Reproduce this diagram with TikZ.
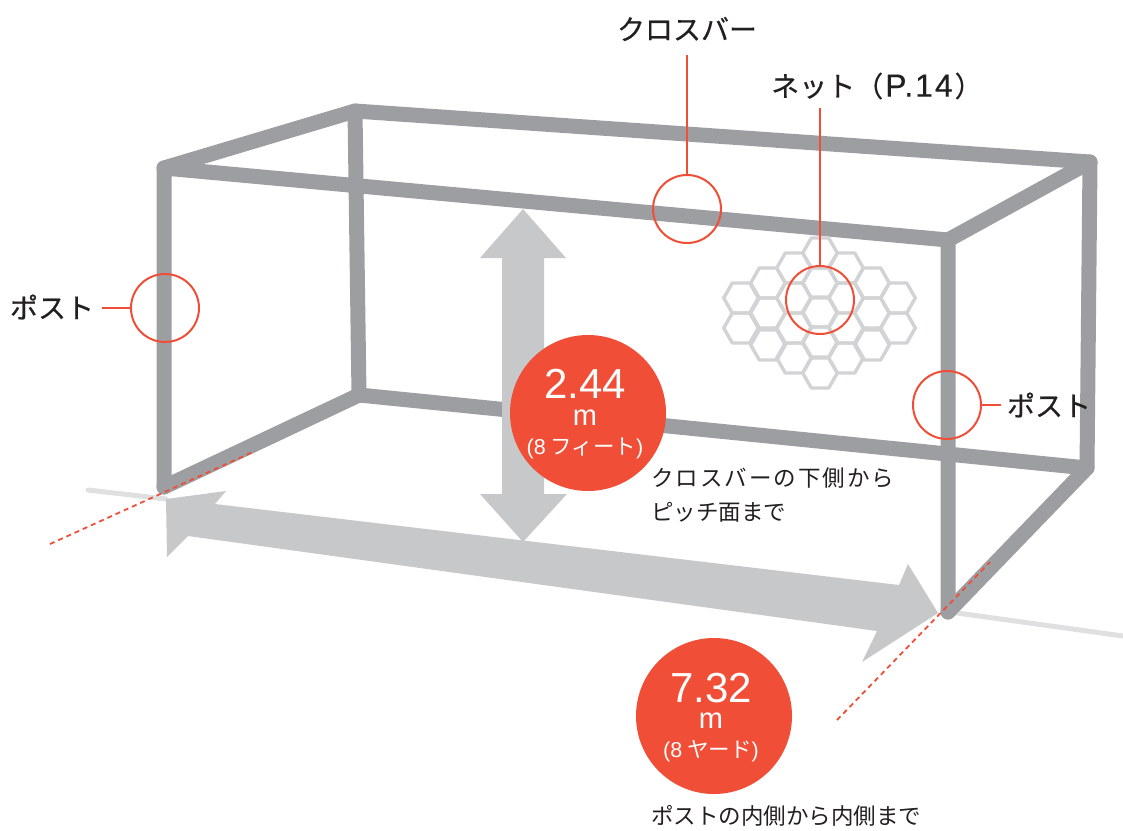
\documentclass[tikz,border=0pt]{standalone}
\usepackage{fontspec}
\usepackage{xcolor}
\setmainfont{Noto Sans CJK JP}
\newfontfamily\numfont{Liberation Sans}
\newfontfamily\widefont[LetterSpace=9]{Noto Sans CJK JP}
\newfontfamily\labelfont[FakeBold=0.5]{Noto Sans CJK JP}
\newfontfamily\pagefont[FakeBold=0.5,LetterSpace=6]{Liberation Sans}
\definecolor{tube}{HTML}{9D9EA2}
\definecolor{pale}{HTML}{C6C8CA}
\definecolor{mesh}{HTML}{D1D3D4}
\definecolor{ground}{HTML}{DFE0E2}
\definecolor{signal}{HTML}{F04E37}
\definecolor{ink}{HTML}{231F20}
\begin{document}
\begin{tikzpicture}[x=1pt,y=-1pt,
    tube line/.style={draw=tube,line width=15pt,line cap=round,line join=round},
    ground line/.style={draw=ground,line width=5pt,line cap=round},
    guide line/.style={draw=signal,line width=1.8pt,dash pattern=on 5pt off 4pt},
    mark line/.style={draw=signal,line width=2pt},
    ring/.style={circle,draw=signal,line width=2pt,minimum size=68pt,inner sep=0pt},
    badge/.style={circle,fill=signal,minimum size=156pt,inner sep=0pt},
    big label/.style={text=ink,inner sep=0pt,font=\labelfont\fontsize{28}{32}\selectfont},
    small label/.style={text=ink,inner sep=0pt,anchor=west,font=\fontsize{22.5}{26}\selectfont},
    num big/.style={text=white,inner sep=0pt,font=\numfont\fontsize{42}{46}\selectfont},
    num unit/.style={text=white,inner sep=0pt,font=\numfont\fontsize{29}{32}\selectfont},
    num sub/.style={text=white,inner sep=0pt,font=\fontsize{21.5}{25}\selectfont}]
    \useasboundingbox (0,0) rectangle (1123,830);

    % ground
    \coordinate (g1) at (88,490);
    \coordinate (g2) at (166,499);
    \coordinate (g3) at (950,612);
    \coordinate (g4) at (1123,636);
    \draw[ground line] (g1) -- (g2);
    \draw[ground line] (g3) -- (g4);

    % goal frame
    \coordinate (fl top) at (164,168);
    \coordinate (bl top) at (355,111);
    \coordinate (br top) at (1090,162);
    \coordinate (fr top) at (948,240);
    \coordinate (fl low) at (164,487);
    \coordinate (bl low) at (359,395);
    \coordinate (br low) at (1087,468);
    \coordinate (fr low) at (948,612);
    \draw[tube line] (bl top) -- (bl low) -- (br low) -- (br top) -- cycle;
    \draw[tube line] (fl low) -- (fl top) -- (fr top) -- (fr low);
    \draw[tube line] (fl top) -- (bl top);
    \draw[tube line] (fr top) -- (br top);
    \draw[tube line] (fl low) -- (bl low);
    \draw[tube line] (fr low) -- (br low);

    % net
    \foreach \px/\py in {820/253,820/283,820/312,820/342,820/373,
        794/268,794/298,794/328,794/358,846/268,846/298,846/328,846/358,
        768/283,768/313,768/345,872/283,872/313,872/345,
        741/298,741/328,898/298,898/328}
        \draw[draw=mesh,line width=3.4pt,line join=round]
            (\px-17.3,\py) -- (\px-8.7,\py-15) -- (\px+8.7,\py-15)
            -- (\px+17.3,\py) -- (\px+8.7,\py+15) -- (\px-8.7,\py+15) -- cycle;

    % arrows
    \fill[pale] (523,209) -- (566,258) -- (544,258) -- (544,494) -- (567,494)
        -- (523,542) -- (480,494) -- (502,494) -- (502,258) -- (480,258) -- cycle;
    \fill[pale] (166,499) -- (226,491) -- (215,504) -- (899,585) -- (908,564)
        -- (938,613) -- (862,662) -- (877,631) -- (188,536) -- (167,557) -- cycle;

    % edge guides
    \coordinate (d1) at (50,544);
    \coordinate (d2) at (255,451);
    \coordinate (d3) at (837,720);
    \coordinate (d4) at (990,562);
    \draw[guide line] (d1) -- (d2);
    \draw[guide line] (d3) -- (d4);

    % badges
    \node[badge] (height) at (588,413) {};
    \node[num big] (height num) at (585,384) {2.44};
    \node[num unit] (height unit) at (585,418) {m};
    \node[num sub] (height sub) at (585,448) {{\numfont(8} フィート{\numfont)}};
    \node[badge] (width) at (714,716) {};
    \node[num big] (width num) at (711,688) {7.32};
    \node[num unit] (width unit) at (711,721) {m};
    \node[num sub] (width sub) at (711,751) {{\numfont(8} ヤード{\numfont)}};
    \node[small label,font=\widefont\fontsize{22.5}{26}\selectfont] (height note a) at (651,478) {クロスバーの下側から};
    \node[small label] (height note b) at (651,512) {ピッチ面まで};
    \node[small label] (width note) at (651,816) {ポストの内側から内側まで};

    % callouts
    \node[ring] (post left) at (165,308) {};
    \node[ring] (bar ring) at (687,209) {};
    \node[ring] (net ring) at (820,300) {};
    \node[ring] (post right) at (947,405) {};
    \node[big label] (post left text) at (52,307) {ポスト};
    \node[big label] (bar text) at (687,29) {クロスバー};
    \node[big label,anchor=west] (net text) at (771,86) {ネット（\kern2pt{\pagefont\fontsize{32}{32}\selectfont P.14}\kern2pt）};
    \node[big label] (post right text) at (1049,405) {ポスト};
    \coordinate (post left end) at (102,308);
    \coordinate (bar end) at (687,55);
    \coordinate (net end) at (820,108);
    \coordinate (post right end) at (1001,405);
    \draw[mark line] (post left end) -- (post left);
    \draw[mark line] (bar end) -- (bar ring);
    \draw[mark line] (net end) -- (net ring);
    \draw[mark line] (post right end) -- (post right);
\end{tikzpicture}
\end{document}
